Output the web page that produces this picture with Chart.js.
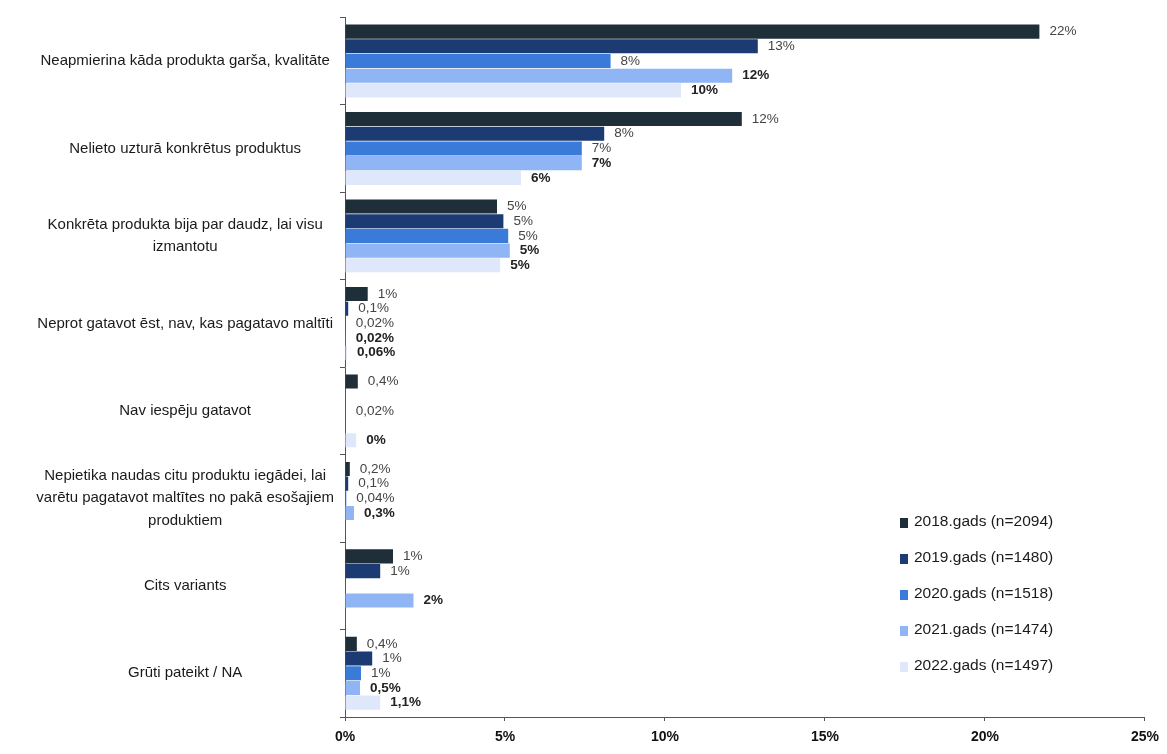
<!DOCTYPE html>
<html>
<head>
<meta charset="utf-8">
<script src="https://cdn.jsdelivr.net/npm/chart.js@4"></script>
<style>
  body { margin: 0; background: #fff; }
  #wrap { position: relative; width: 1167px; height: 754px; }
  #legend { position: absolute; left: 900px; top: 512px; font: 15.5px 'Liberation Sans', sans-serif; color: #1a1a1a; }
  #legend div { height: 36px; display: flex; align-items: flex-start; }
  #legend span.box { display: inline-block; width: 8px; height: 10px; margin: 6px 6px 0 0; }
</style>
</head>
<body>
<div id="wrap">
  <canvas id="chart" width="1167" height="754"></canvas>
  <div id="legend"></div>
</div>
<script>
const categories = [
  'Neapmierina kāda produkta garša, kvalitāte',
  'Nelieto uzturā konkrētus produktus',
  ['Konkrēta produkta bija par daudz, lai visu', 'izmantotu'],
  'Neprot gatavot ēst, nav, kas pagatavo maltīti',
  'Nav iespēju gatavot',
  ['Nepietika naudas citu produktu iegādei, lai', 'varētu pagatavot maltītes no pakā esošajiem', 'produktiem'],
  'Cits variants',
  'Grūti pateikt / NA'
];

const seriesNames = ['2018.gads (n=2094)', '2019.gads (n=1480)', '2020.gads (n=1518)', '2021.gads (n=1474)', '2022.gads (n=1497)'];
const seriesColors = ['#1f2f3a', '#1b3b72', '#3a7bd9', '#8fb5f5', '#dfe7fa'];

const s2018 = [21.7, 12.4, 4.75, 0.71, 0.4, 0.15, 1.5, 0.37];
const s2019 = [12.9, 8.1, 4.95, 0.1, null, 0.1, 1.1, 0.85];
const s2020 = [8.3, 7.4, 5.1, 0.02, 0.02, 0.04, null, 0.5];
const s2021 = [12.1, 7.4, 5.15, 0.02, null, 0.28, 2.14, 0.47];
const s2022 = [10.5, 5.5, 4.85, 0.06, 0.35, null, null, 1.1];

const l2018 = ['22%', '12%', '5%', '1%', '0,4%', '0,2%', '1%', '0,4%'];
const l2019 = ['13%', '8%', '5%', '0,1%', '', '0,1%', '1%', '1%'];
const l2020 = ['8%', '7%', '5%', '0,02%', '0,02%', '0,04%', '', '1%'];
const l2021 = ['12%', '7%', '5%', '0,02%', '', '0,3%', '2%', '0,5%'];
const l2022 = ['10%', '6%', '5%', '0,06%', '0%', '', '', '1,1%'];

const xTicks = [0, 5, 10, 15, 20, 25];

const values = [s2018, s2019, s2020, s2021, s2022];
const labels = [l2018, l2019, l2020, l2021, l2022];

const FONT = "'Liberation Sans', sans-serif";

// value labels next to the bar ends
const valueLabels = {
  id: 'valueLabels',
  afterDatasetsDraw(chart) {
    const ctx = chart.ctx;
    ctx.save();
    ctx.textAlign = 'left';
    ctx.textBaseline = 'middle';
    chart.data.datasets.forEach((ds, i) => {
      const meta = chart.getDatasetMeta(i);
      ctx.font = (i >= 3 ? 'bold ' : '') + '13.5px ' + FONT;
      ctx.fillStyle = i >= 3 ? '#222' : '#444';
      meta.data.forEach((bar, j) => {
        const txt = ds.valueText[j];
        if (!txt) return;
        ctx.fillText(txt, bar.x + 10, bar.y);
      });
    });
    ctx.restore();
  }
};

const chart = new Chart(document.getElementById('chart').getContext('2d'), {
  type: 'bar',
  data: {
    labels: categories,
    datasets: values.map((v, i) => ({
      label: seriesNames[i],
      data: v,
      valueText: labels[i],
      backgroundColor: seriesColors[i],
      borderWidth: 0,
      categoryPercentage: 0.84,
      barPercentage: 0.96,
      skipNull: false
    }))
  },
  options: {
    indexAxis: 'y',
    responsive: false,
    animation: false,
    layout: { padding: { top: 17, right: 17, left: 0, bottom: 0 } },
    plugins: {
      legend: { display: false },
      tooltip: { enabled: false }
    },
    scales: {
      x: {
        min: 0,
        max: 25,
        afterBuildTicks: axis => { axis.ticks = xTicks.map(v => ({ value: v })); },
        afterFit: axis => { axis.height = 37; },
        grid: { drawOnChartArea: false, tickLength: 4, color: '#555' },
        border: { color: '#555', width: 1 },
        ticks: {
          callback: v => v + '%',
          color: '#111',
          padding: 8,
          font: { family: FONT, size: 14, weight: 'bold' }
        }
      },
      y: {
        afterFit: axis => { axis.width = 345; },
        grid: { drawOnChartArea: false, offset: true, tickLength: 5, color: '#555' },
        border: { color: '#555', width: 1 },
        ticks: {
          crossAlign: 'center',
          color: '#1a1a1a',
          padding: 6,
          font: { family: FONT, size: 15, lineHeight: 1.5 }
        }
      }
    }
  },
  plugins: [valueLabels]
});

const legend = document.getElementById('legend');
seriesNames.forEach((name, i) => {
  const row = document.createElement('div');
  row.innerHTML = '<span class="box" style="background:' + seriesColors[i] + '"></span>' + name;
  legend.appendChild(row);
});
</script>
</body>
</html>
